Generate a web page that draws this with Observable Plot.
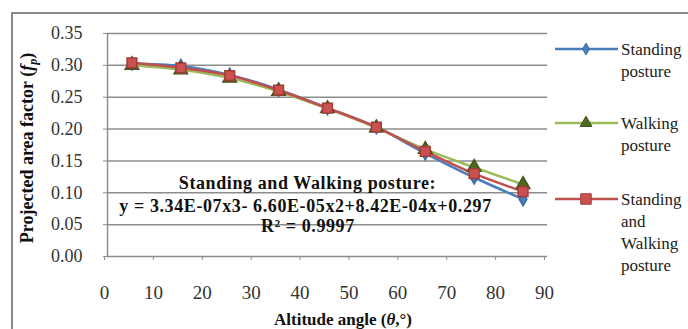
<!DOCTYPE html>
<html>
<head>
<meta charset="utf-8">
<script src="https://cdn.jsdelivr.net/npm/d3@7"></script>
<script src="https://cdn.jsdelivr.net/npm/@observablehq/plot@0.6"></script>
<style>
  html, body { margin: 0; padding: 0; background: #fff; }
  #chart { width: 688px; height: 329px; overflow: hidden; position: relative; }
  #chart svg, #chart svg text { font-family: "Liberation Serif", "Times New Roman", serif !important; }
</style>
</head>
<body>
<div id="chart"></div>
<script>
// ---- data ----
const angles = [5, 15, 25, 35, 45, 55, 65, 75, 85];
const standing = [0.303, 0.299, 0.285, 0.262, 0.233, 0.203, 0.162, 0.124, 0.090];
const walking  = [0.300, 0.293, 0.280, 0.259, 0.232, 0.202, 0.168, 0.140, 0.113];
const combined = [0.304, 0.296, 0.284, 0.261, 0.233, 0.203, 0.165, 0.130, 0.102];
const seriesNames = ["Standing posture", "Walking posture", "Standing and Walking posture"];
const xTicks = [0, 10, 20, 30, 40, 50, 60, 70, 80, 90];
const yTicks = [0, 0.05, 0.10, 0.15, 0.20, 0.25, 0.30, 0.35];
const annotationLines = ["Standing and Walking posture:", "y = 3.34E-07x3- 6.60E-05x2+8.42E-04x+0.297", "R² = 0.9997"];
const annotationX = [40.9, 40.5, 41];
const annotationY = [0.115, 0.0795, 0.048];
const xTitle = "Altitude angle";
const yTitle = "Projected area factor";

// ---- styles ----
const serif = "'Liberation Serif', 'Times New Roman', serif";
const colors = {
  standing: {line: "#4a7ebb", fill: "#4a7ebb", stroke: "#3a6aa6"},
  walking: {line: "#9bbb59", fill: "#4f6b22", stroke: "#3d5418"},
  combined: {line: "#c0504d", fill: "#c9514e", stroke: "#a33c39"}
};

const mk = (vals) => angles.map((a, i) => ({x: a, y: vals[i]}));
const dS = mk(standing), dW = mk(walking), dC = mk(combined);
const ann = annotationLines.map((t, i) => ({t, x: annotationX[i], y: annotationY[i]}));

const plot = Plot.plot({
  width: 688,
  height: 329,
  marginLeft: 107,
  marginRight: 141,
  marginTop: 33,
  marginBottom: 73,
  style: {fontFamily: serif, background: "transparent"},
  x: {domain: [0, 90]},
  y: {domain: [0, 0.35]},
  marks: [
    Plot.gridY(yTicks, {stroke: "#8c8c8c", strokeOpacity: 1, strokeWidth: 1.5}),
    Plot.ruleX([0], {stroke: "#8c8c8c", strokeWidth: 1.5}),
    Plot.axisY({ticks: yTicks, tickFormat: d3.format(".2f"), tickSize: 4, tickPadding: 21,
      stroke: "#8c8c8c", fill: "#333", fontSize: 18, label: null}),
    Plot.axisX({ticks: xTicks, tickSize: 4, tickPadding: 25, stroke: "#8c8c8c", fill: "#333",
      fontSize: 19, dx: -3, label: null}),
    Plot.line(dS, {x: "x", y: "y", stroke: colors.standing.line, strokeWidth: 2.5, curve: "catmull-rom"}),
    Plot.line(dW, {x: "x", y: "y", stroke: colors.walking.line, strokeWidth: 2.5, curve: "catmull-rom"}),
    Plot.line(dC, {x: "x", y: "y", stroke: colors.combined.line, strokeWidth: 2.5, curve: "catmull-rom"}),
    Plot.dot(dS, {x: "x", y: "y", symbol: "diamond", r: 4, fill: colors.standing.fill, stroke: colors.standing.stroke}),
    Plot.dot(dW, {x: "x", y: "y", symbol: "triangle", r: 5, fill: colors.walking.fill, stroke: colors.walking.stroke}),
    Plot.dot(dC, {x: "x", y: "y", symbol: "square", r: 5.5, fill: colors.combined.fill, stroke: colors.combined.stroke}),
    Plot.text(ann, {x: "x", y: "y", text: "t", fontSize: 18, fontWeight: "bold", fill: "#111", className: "ann"})
  ]
});

document.getElementById("chart").appendChild(plot);
const svg = d3.select(plot);
svg.attr("font-family", serif);
svg.selectAll(".ann text").attr("letter-spacing", "0.6px");

// outer frame
svg.insert("rect", ":first-child")
  .attr("x", 12).attr("y", 13).attr("width", 720).attr("height", 400)
  .attr("fill", "none").attr("stroke", "#8a8a8a").attr("stroke-width", 2);

// axis titles
const yt = svg.append("text")
  .attr("transform", "translate(33,148) rotate(-90)").attr("font-family", serif)
  .attr("text-anchor", "middle").attr("font-size", 18).attr("font-weight", "bold").attr("fill", "#111");
yt.append("tspan").text(yTitle + " (");
yt.append("tspan").attr("font-style", "italic").text("f");
yt.append("tspan").attr("font-style", "italic").attr("font-size", 12).attr("dy", 4).text("p");
yt.append("tspan").attr("dy", -4).text(")");

const xt = svg.append("text")
  .attr("x", 343).attr("y", 325).attr("font-family", serif)
  .attr("text-anchor", "middle").attr("font-size", 17).attr("font-weight", "bold").attr("fill", "#111");
xt.append("tspan").text(xTitle + " (");
xt.append("tspan").attr("font-style", "italic").text("θ");
xt.append("tspan").text(",°)");

// legend
const legend = [
  {key: "standing", symbol: d3.symbolDiamond, size: 40, y: 49, lines: ["Standing", "posture"]},
  {key: "walking", symbol: d3.symbolTriangle, size: 60, y: 123, lines: ["Walking", "posture"]},
  {key: "combined", symbol: d3.symbolSquare, size: 110, y: 199, lines: ["Standing", "and", "Walking", "posture"]}
];
legend.forEach((L, i) => {
  const g = svg.append("g");
  g.append("line").attr("x1", 555).attr("x2", 618).attr("y1", L.y).attr("y2", L.y)
    .attr("stroke", colors[L.key].line).attr("stroke-width", 2.5);
  g.append("path").attr("d", d3.symbol(L.symbol, L.size)()).attr("transform", `translate(586,${L.y})`)
    .attr("fill", colors[L.key].fill).attr("stroke", colors[L.key].stroke);
  const t = g.append("text").attr("x", 621).attr("y", L.y + 6).attr("font-size", 17)
    .attr("font-family", serif).attr("text-anchor", "start").attr("fill", "#222");
  L.lines.forEach((s, j) => t.append("tspan").attr("x", 621).attr("dy", j === 0 ? 0 : 22).text(s));
});
</script>
</body>
</html>
